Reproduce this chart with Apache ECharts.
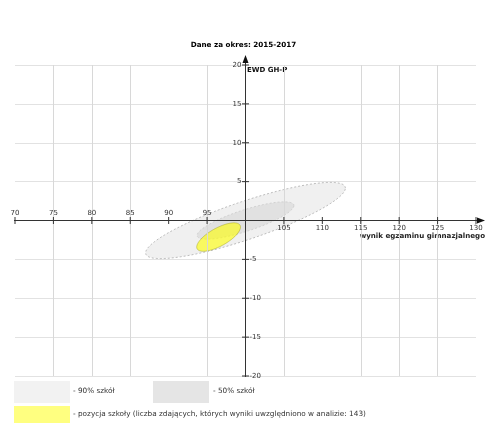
<!DOCTYPE html>
<html>
<head>
<meta charset="utf-8">
<script src="https://cdn.jsdelivr.net/npm/echarts@6/dist/echarts.min.js"></script>
<style>
  html, body { margin: 0; padding: 0; background: #ffffff; }
  #chart { width: 487px; height: 423px; }
</style>
</head>
<body>
<div id="chart"></div>
<script>
// ---- data ----
const titleText = 'Dane za okres: 2015-2017';
const xAxisName = 'wynik egzaminu gimnazjalnego';
const yAxisName = 'EWD GH-P';
const xRange = [70, 130];
const yRange = [-20, 20];
const tickStep = 5;
const xCross = 100;   // x value where the vertical axis crosses
const yCross = 0;     // y value where the horizontal axis crosses
const xTickLabels = [70, 75, 80, 85, 90, 95, 105, 110, 115, 120, 125, 130];
const yTickLabels = [20, 15, 10, 5, -5, -10, -15, -20];
const xGridValues = [75, 80, 85, 95, 105, 115, 120, 125];
const ellipseNames = ['90% szkół', '50% szkół', 'pozycja szkoły (liczba zdających, których wyniki uwzględniono w analizie: 143)'];
const centerX = [100, 100, 96.5];
const centerY = [0, 0, -2.13];
const radiusX = [13.0, 6.3, 2.85];
const radiusY = [4.9, 2.4, 1.83];
const correlation = [0.85, 0.8, 0.7];

const FONT = '"DejaVu Sans"';
const fills = ['rgba(0,0,0,0.06)', 'rgba(0,0,0,0.06)', 'rgba(255,255,0,0.6)'];
const strokes = ['#a0a0a0', '#c4c4c4', 'rgba(140,140,0,0.55)'];
const dashes = [[2, 2], [2, 2], null];
const legendFills = ['#f2f2f2', '#e5e5e5', '#ffff80'];
const AXIS_COLOR = '#333';

function ellipseRender(idx) {
  return function (params, api) {
    const cx = api.value(0), cy = api.value(1), rx = api.value(2), ry = api.value(3), rho = api.value(4);
    const s = Math.sqrt(1 - rho * rho);
    const pts = [];
    const N = 160;
    for (let i = 0; i < N; i++) {
      const t = i / N * Math.PI * 2;
      pts.push(api.coord([cx + rx * Math.cos(t), cy + ry * (rho * Math.cos(t) + s * Math.sin(t))]));
    }
    return {
      type: 'polygon',
      shape: { points: pts },
      style: { fill: fills[idx], stroke: strokes[idx], lineWidth: 0.7, lineDash: dashes[idx] }
    };
  };
}

const series = [];
// vertical grid lines
series.push({
  type: 'line', xAxisIndex: 0, yAxisIndex: 0, data: [], silent: true, z: 1,
  markLine: {
    silent: true, symbol: ['none', 'none'], label: { show: false },
    lineStyle: { color: '#d8d8d8', width: 1, type: 'solid' },
    data: xGridValues.map(function (v) { return { xAxis: v }; })
  }
});
ellipseNames.forEach(function (name, i) {
  series.push({
    type: 'custom', name: name, renderItem: ellipseRender(i),
    data: [[centerX[i], centerY[i], radiusX[i], radiusY[i], correlation[i]]],
    encode: { x: 0, y: 1 }, silent: true, z: 2 + i
  });
});
// axis lines with arrows
series.push({
  type: 'custom', silent: true, z: 10, clip: false,
  data: [[xRange[0], yCross]],
  encode: { x: 0, y: 1 },
  renderItem: function (params, api) {
    const a = api.coord([xRange[0], yCross]);
    const b = api.coord([xRange[1], yCross]);
    const c = api.coord([xCross, yRange[0]]);
    const d = api.coord([xCross, yRange[1]]);
    return {
      type: 'group',
      children: [
        { type: 'line', shape: { x1: a[0] - 1, y1: a[1], x2: b[0] + 1, y2: b[1] }, style: { stroke: AXIS_COLOR, lineWidth: 1 } },
        { type: 'polygon', shape: { points: [[b[0] + 1, b[1] - 3], [b[0] + 9, b[1]], [b[0] + 1, b[1] + 3]] }, style: { fill: '#111' } },
        { type: 'line', shape: { x1: c[0], y1: c[1] + 1, x2: d[0], y2: d[1] - 2 }, style: { stroke: AXIS_COLOR, lineWidth: 1 } },
        { type: 'polygon', shape: { points: [[d[0] - 3, d[1] - 2], [d[0], d[1] - 10], [d[0] + 3, d[1] - 2]] }, style: { fill: '#111' } }
      ]
    };
  }
});
// x ticks and labels
series.push({
  type: 'custom', silent: true, z: 11, clip: false,
  data: xTickLabels.map(function (v) { return [v, yCross]; }),
  encode: { x: 0, y: 1 },
  renderItem: function (params, api) {
    const v = api.value(0);
    const p = api.coord([v, yCross]);
    const above = v < xCross;
    return {
      type: 'group',
      children: [
        { type: 'line', shape: { x1: p[0], y1: p[1] - 3.5, x2: p[0], y2: p[1] + 3.5 }, style: { stroke: AXIS_COLOR, lineWidth: 1 } },
        { type: 'text', style: { text: String(v), x: p[0], y: above ? p[1] - 4 : p[1] + 4,
            align: 'center', verticalAlign: above ? 'bottom' : 'top', fill: '#333', font: '7px ' + FONT } }
      ]
    };
  }
});
// y ticks and labels
series.push({
  type: 'custom', silent: true, z: 11, clip: false,
  data: yTickLabels.map(function (v) { return [xCross, v]; }),
  encode: { x: 0, y: 1 },
  renderItem: function (params, api) {
    const v = api.value(1);
    const p = api.coord([xCross, v]);
    const left = v > yCross;
    return {
      type: 'group',
      children: [
        { type: 'line', shape: { x1: p[0] - 3.5, y1: p[1], x2: p[0] + 3.5, y2: p[1] }, style: { stroke: AXIS_COLOR, lineWidth: 1 } },
        { type: 'text', style: { text: String(v), x: left ? p[0] - 4 : p[0] + 4, y: p[1],
            align: left ? 'right' : 'left', verticalAlign: 'middle', fill: '#333', font: '7px ' + FONT } }
      ]
    };
  }
});

const option = {
  animation: false,
  backgroundColor: '#ffffff',
  grid: { left: 15, right: 11, top: 65, bottom: 47, containLabel: false },
  xAxis: {
    type: 'value', min: xRange[0], max: xRange[1], interval: tickStep,
    axisLine: { show: false }, axisTick: { show: false }, axisLabel: { show: false },
    splitLine: { show: false }
  },
  yAxis: {
    type: 'value', min: yRange[0], max: yRange[1], interval: tickStep,
    axisLine: { show: false }, axisTick: { show: false }, axisLabel: { show: false },
    splitLine: { show: true, lineStyle: { color: '#e2e2e2', width: 1 } }
  },
  series: series,
  graphic: [
    { type: 'text', left: 'center', top: 42, style: { text: titleText, font: 'bold 7.2px ' + FONT, fill: '#000' } },
    { type: 'text', left: 247, top: 67, style: { text: yAxisName, font: 'bold 7px ' + FONT, fill: '#111' } },
    { type: 'text', right: 2, top: 233, style: { text: xAxisName, font: 'bold 7.1px ' + FONT, fill: '#222' } },
    { type: 'rect', left: 14, top: 381, shape: { width: 56, height: 22 }, style: { fill: legendFills[0] } },
    { type: 'rect', left: 153, top: 381, shape: { width: 56, height: 22 }, style: { fill: legendFills[1] } },
    { type: 'rect', left: 14, top: 406, shape: { width: 56, height: 20 }, style: { fill: legendFills[2] } },
    { type: 'text', left: 73, top: 388, style: { text: '- ' + ellipseNames[0], font: '7.3px ' + FONT, fill: '#333' } },
    { type: 'text', left: 213, top: 388, style: { text: '- ' + ellipseNames[1], font: '7.3px ' + FONT, fill: '#333' } },
    { type: 'text', left: 73, top: 411, style: { text: '- ' + ellipseNames[2], font: '7.3px ' + FONT, fill: '#333' } }
  ]
};

const chart = echarts.init(document.getElementById('chart'), null, { renderer: 'canvas' });
chart.setOption(option);
</script>
</body>
</html>
